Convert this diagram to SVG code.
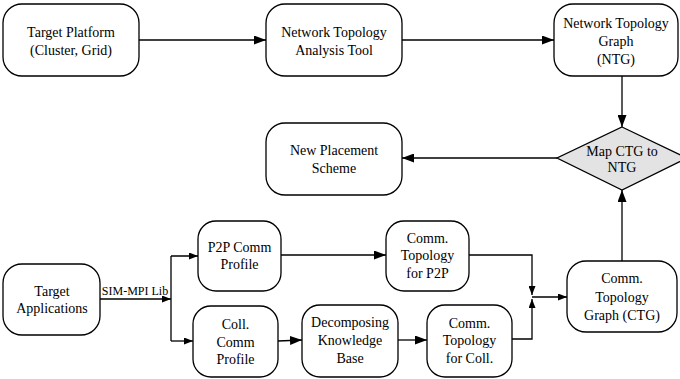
<svg xmlns="http://www.w3.org/2000/svg" width="680" height="379" viewBox="0 0 680 379">
<style>
.n{fill:#fff;stroke:#000;stroke-width:1.3}
.d{fill:#e3e3e3;stroke:#000;stroke-width:1.3}
.t{font-size:14px;fill:#000;text-anchor:middle}
.s{font-size:12px;fill:#000;text-anchor:middle}
.c{fill:none;stroke:#000;stroke-width:1.3}
.a{marker-end:url(#ah)}
.b{marker-end:url(#sh)}
</style>
<defs>
<marker id="ah" markerWidth="12" markerHeight="9" refX="12" refY="4.5" orient="auto" markerUnits="userSpaceOnUse"><path d="M0,0 L12,4.5 L0,9 Z" fill="#000"/></marker>
<marker id="sh" markerWidth="9" markerHeight="7" refX="9" refY="3.5" orient="auto" markerUnits="userSpaceOnUse"><path d="M0,0 L9,3.5 L0,7 Z" fill="#000"/></marker>
</defs>
<g id="connectors">
<path class="c a" d="M139,40 H266"/>
<path class="c a" d="M402,40 H554"/>
<path class="c a" d="M622,76 V127"/>
<path class="c a" d="M557,158 H402"/>
<path class="c a" d="M622,261 V190"/>
<path class="c b" d="M100,299 H171"/>
<path class="c b" d="M171,256 V341 M171,256 H198"/>
<path class="c b" d="M171,341 H193"/>
<path class="c a" d="M278,341 L302,340"/>
<path class="c a" d="M281,255 H386"/>
<path class="c a" d="M397,340 H427"/>
<path class="c b" d="M469,255 H532 V295"/>
<path class="c b" d="M512,339 H532 V299"/>
<path class="c b" d="M532,297 H567"/>
</g>
<g font-family="Liberation Serif, Times New Roman, serif">
<g id="target-platform"><rect class="n" x="3" y="4" width="136" height="72" rx="19"/><text class="t" x="71" y="37">Target Platform</text><text class="t" x="71" y="55">(Cluster, Grid)</text></g>
<g id="nta-tool"><rect class="n" x="266" y="4" width="136" height="72" rx="19"/><text class="t" x="334" y="37">Network Topology</text><text class="t" x="334" y="55">Analysis Tool</text></g>
<g id="ntg"><rect class="n" x="554" y="4" width="124" height="72" rx="19"/><text class="t" x="616" y="28">Network Topology</text><text class="t" x="616" y="46">Graph</text><text class="t" x="616" y="64">(NTG)</text></g>
<g id="map"><polygon class="d" points="622,127 687,158 622,190 557,158"/><text class="t" x="622" y="156">Map CTG to</text><text class="t" x="622" y="172">NTG</text></g>
<g id="new-placement"><rect class="n" x="266" y="123" width="136" height="72" rx="19"/><text class="t" x="334" y="155">New Placement</text><text class="t" x="334" y="173">Scheme</text></g>
<g id="target-apps"><rect class="n" x="3" y="264" width="97" height="71" rx="19"/><text class="t" x="52" y="296">Target</text><text class="t" x="52" y="313">Applications</text></g>
<g id="sim-label"><text class="s" x="135" y="295">SIM-MPI Lib</text></g>
<g id="p2p-profile"><rect class="n" x="198" y="221" width="83" height="70" rx="18"/><text class="t" x="239.5" y="252">P2P Comm</text><text class="t" x="239.5" y="269">Profile</text></g>
<g id="coll-profile"><rect class="n" x="193" y="306" width="85" height="71" rx="18"/><text class="t" x="235.5" y="329">Coll.</text><text class="t" x="235.5" y="347">Comm</text><text class="t" x="235.5" y="364">Profile</text></g>
<g id="decomposing"><rect class="n" x="302" y="305" width="96" height="72" rx="18"/><text class="t" x="350" y="327">Decomposing</text><text class="t" x="350" y="345">Knowledge</text><text class="t" x="350" y="363">Base</text></g>
<g id="ct-p2p"><rect class="n" x="386" y="221" width="83" height="70" rx="18"/><text class="t" x="427.5" y="243">Comm.</text><text class="t" x="427.5" y="260">Topology</text><text class="t" x="427.5" y="278">for P2P</text></g>
<g id="ct-coll"><rect class="n" x="427" y="305" width="85" height="72" rx="18"/><text class="t" x="469.5" y="328">Comm.</text><text class="t" x="469.5" y="345">Topology</text><text class="t" x="469.5" y="363">for Coll.</text></g>
<g id="ctg"><rect class="n" x="567" y="261" width="110" height="71" rx="19"/><text class="t" x="622" y="283">Comm.</text><text class="t" x="622" y="302">Topology</text><text class="t" x="622" y="320">Graph (CTG)</text></g>
</g>
</svg>
